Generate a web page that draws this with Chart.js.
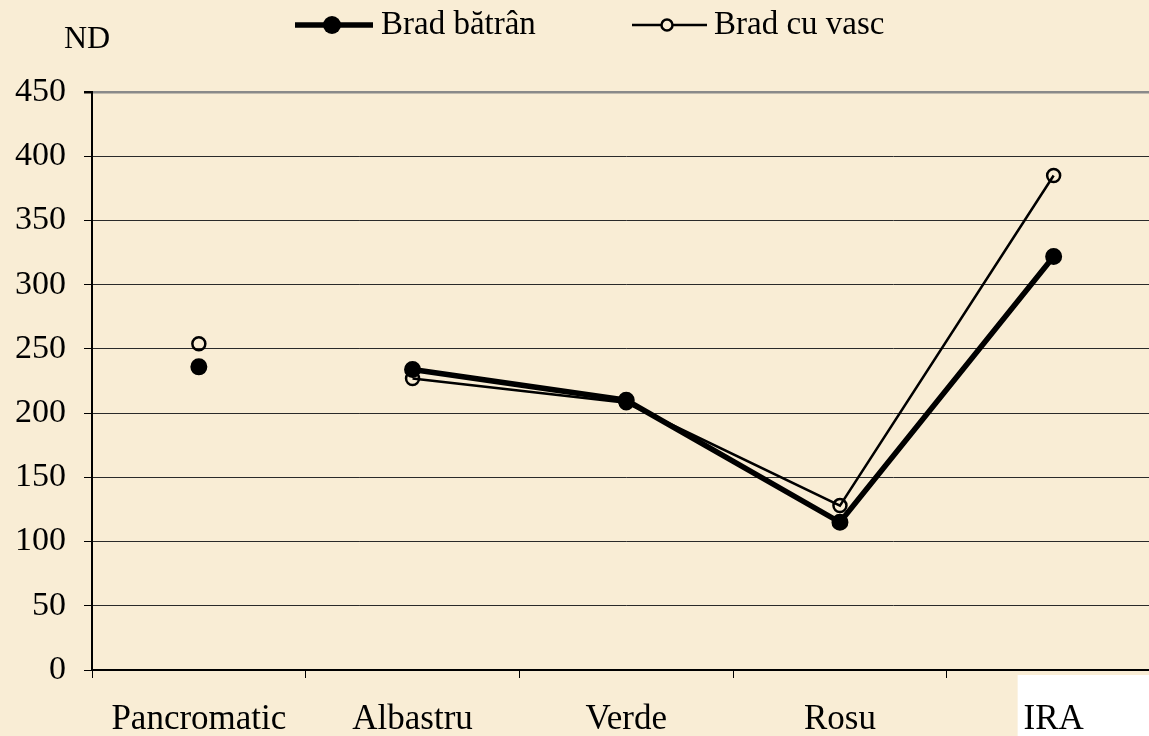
<!DOCTYPE html>
<html lang="ro">
<head>
    <meta charset="UTF-8">
    <title>ND</title>
    <script src="https://cdn.jsdelivr.net/npm/chart.js"></script>
    <style>
        html, body { margin: 0; padding: 0; overflow: hidden; background: #f9edd5; }
        canvas { display: block; }
    </style>
</head>
<body>
    <canvas id="ndChart" width="1170" height="736"></canvas>
    <script>
        // date
        var categorii = ['Pancromatic', 'Albastru', 'Verde', 'Rosu', 'IRA'];
        var bradBatran = [236, 234, 210, 115, 322];
        var bradCuVasc = [254, 227, 208, 128, 385];
        var yTicks = [0, 50, 100, 150, 200, 250, 300, 350, 400, 450];

        var serif = '"Liberation Serif", "Times New Roman", serif';

        // segmentul Pancromatic -> Albastru nu este desenat
        function segColor(culoare) {
            return function(ctx) { return ctx.p0DataIndex === 0 ? 'rgba(0,0,0,0)' : culoare; };
        }

        var fundal = {
            id: 'fundal',
            beforeDraw: function(chart) {
                var c = chart.ctx;
                c.save();
                c.fillStyle = '#f9edd5';
                c.fillRect(0, 0, chart.width, chart.height);
                // caseta alba din spatele etichetei IRA
                var x = chart.scales.x;
                c.fillStyle = '#ffffff';
                c.fillRect(x.getPixelForValue(4) - 36, x.top + 5, 200, chart.height - x.top);
                c.restore();
            },
            afterDraw: function(chart) {
                var c = chart.ctx;
                c.save();
                c.fillStyle = '#000';
                c.font = '32px ' + serif;
                c.textBaseline = 'alphabetic';
                c.fillText('ND', 64, 48);

                // legenda
                c.strokeStyle = '#000';
                c.lineWidth = 5.5;
                c.beginPath(); c.moveTo(295, 25); c.lineTo(373, 25); c.stroke();
                c.beginPath(); c.arc(332, 25, 9, 0, Math.PI * 2); c.fill();
                c.font = '33px ' + serif;
                c.fillText('Brad bătrân', 381, 34);

                c.lineWidth = 2.5;
                c.beginPath(); c.moveTo(632, 25); c.lineTo(707, 25); c.stroke();
                c.beginPath(); c.arc(667, 25, 5.5, 0, Math.PI * 2);
                c.fillStyle = '#f9edd5'; c.fill(); c.stroke();
                c.fillStyle = '#000';
                c.fillText('Brad cu vasc', 714, 34);
                c.restore();
            }
        };

        var ctx = document.getElementById('ndChart').getContext('2d');
        var ndChart = new Chart(ctx, {
            type: 'line',
            data: {
                labels: categorii,
                datasets: [{
                    label: 'Brad bătrân',
                    data: bradBatran,
                    borderColor: '#000',
                    borderWidth: 5.5,
                    pointRadius: 7.5,
                    pointBorderWidth: 2,
                    pointBackgroundColor: '#000',
                    pointBorderColor: '#000',
                    segment: { borderColor: segColor('#000') }
                }, {
                    label: 'Brad cu vasc',
                    data: bradCuVasc,
                    borderColor: '#000',
                    borderWidth: 2.5,
                    pointRadius: 6.5,
                    pointBorderWidth: 2.5,
                    pointBackgroundColor: 'rgba(0,0,0,0)',
                    pointBorderColor: '#000',
                    segment: { borderColor: segColor('#000') }
                }]
            },
            options: {
                responsive: false,
                animation: false,
                layout: { padding: { top: 92, right: 0, left: 0, bottom: 0 } },
                scales: {
                    x: {
                        offset: true,
                        grid: { offset: true, drawOnChartArea: false, color: '#000', tickLength: 8, lineWidth: 1 },
                        border: { color: '#000', width: 2 },
                        ticks: { color: '#000', font: { family: serif, size: 35 }, padding: 21, maxRotation: 0 },
                        afterFit: function(s) { s.height = 66; }
                    },
                    y: {
                        min: 0,
                        max: 450,
                        afterBuildTicks: function(s) { s.ticks = yTicks.map(function(v) { return { value: v }; }); },
                        grid: {
                            color: function(c) { return c.tick && c.tick.value === 450 ? '#8a8a8a' : '#2a2a2a'; },
                            lineWidth: function(c) { return c.tick && c.tick.value === 450 ? 2.5 : 1; },
                            tickColor: '#000',
                            tickLength: 8
                        },
                        border: { color: '#000', width: 2 },
                        ticks: { color: '#000', font: { family: serif, size: 34 }, padding: 18 },
                        afterFit: function(s) { s.width = 92; }
                    }
                },
                plugins: {
                    legend: { display: false },
                    tooltip: { enabled: false }
                }
            },
            plugins: [fundal]
        });
    </script>
</body>
</html>
